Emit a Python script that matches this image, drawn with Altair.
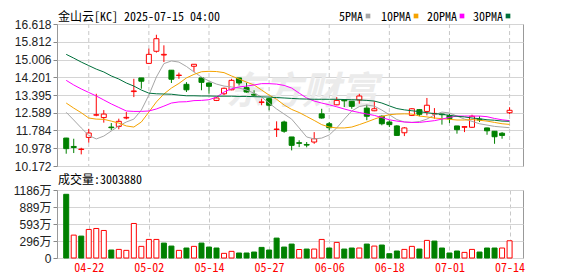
import altair as alt
import pandas as pd

# ---------------- data ----------------
dates = ["04-16","04-17","04-21","04-22","04-23","04-24","04-25","04-28","04-29","04-30",
         "05-01","05-02","05-05","05-06","05-07","05-08","05-09","05-12","05-13","05-14",
         "05-15","05-16","05-19","05-20","05-21","05-22","05-23","05-27","05-28","05-29",
         "05-30","06-02","06-03","06-04","06-05","06-06","06-09","06-10","06-11","06-12",
         "06-13","06-16","06-17","06-18","06-20","06-23","06-24","06-25","06-26","06-27",
         "06-30","07-01","07-02","07-03","07-07","07-08","07-09","07-10","07-11","07-14"]

open_ = [11.44,11.06,10.92,11.47,12.48,12.37,11.94,11.97,12.35,13.55,
         14.17,14.83,15.38,15.21,14.52,14.28,13.88,14.70,14.17,13.94,
         13.15,13.45,13.63,14.17,13.73,13.43,13.06,13.23,11.83,12.17,
         11.49,11.23,11.15,11.26,12.54,12.09,12.95,13.17,13.11,13.17,
         12.80,12.68,12.43,12.17,11.99,11.68,12.47,12.73,12.65,12.53,
         12.53,12.47,11.99,11.93,11.93,12.29,11.90,11.75,11.66,12.59]
high = [11.45,11.41,11.00,11.86,13.45,12.71,12.12,12.32,12.62,14.13,
        14.17,15.50,16.13,15.65,14.53,14.41,13.98,14.79,14.21,13.96,
        13.30,13.73,14.13,14.17,13.95,13.61,13.23,13.26,12.20,12.23,
        11.49,11.34,11.26,11.71,12.77,12.17,13.30,13.20,13.12,13.45,
        12.95,13.11,12.47,12.25,12.02,11.94,12.80,12.76,13.26,12.80,
        12.54,12.54,11.99,11.97,12.50,12.43,11.91,11.76,11.71,12.84]
low = [10.73,10.76,10.70,11.23,12.43,12.14,11.80,11.84,12.29,13.30,
       13.68,14.82,15.32,14.89,13.94,14.13,13.53,14.44,13.61,13.45,
       13.12,13.39,13.61,13.83,13.50,13.35,12.93,12.70,11.49,11.68,
       10.88,11.03,11.02,11.18,12.32,11.79,12.93,12.85,12.77,13.00,
       12.25,12.66,12.02,11.94,11.55,11.53,12.44,12.43,12.47,12.32,
       12.05,12.12,11.64,11.71,11.90,12.17,11.59,11.18,11.41,12.52]
close = [10.96,11.01,10.94,11.67,12.50,12.53,11.91,12.20,12.38,13.58,
         14.02,15.24,15.95,15.24,14.11,14.30,13.63,14.79,13.97,13.79,
         13.26,13.70,14.06,13.94,13.53,13.39,13.08,12.93,11.85,11.75,
         11.11,11.20,11.12,11.41,12.35,11.91,13.15,13.13,12.88,13.35,
         12.43,12.77,12.09,12.05,11.56,11.90,12.77,12.52,12.93,12.56,
         12.50,12.32,11.82,11.96,12.43,12.26,11.77,11.50,11.56,12.70]
# volume in 万 (10k shares)
volume_wan = [1111,399,382,498,515,480,139,150,133,602,
              203,324,324,260,208,133,174,203,260,191,
              174,81,116,87,87,104,185,139,347,191,
              243,148,156,156,324,174,272,156,174,174,
              243,208,226,75,122,150,203,156,307,295,
              174,87,122,98,150,104,174,174,174,300.388]

ma5 = [12.61,12.26,11.90,11.56,11.40,11.53,11.76,11.99,12.17,12.30,
       12.71,13.39,14.21,14.82,14.94,14.89,14.69,14.44,14.21,14.03,
       13.89,13.80,13.76,13.71,13.62,13.48,13.30,13.03,12.76,12.53,
       12.30,11.90,11.49,11.40,11.44,11.58,11.90,12.30,12.67,12.87,
       12.94,12.89,12.71,12.50,12.28,12.17,12.15,12.19,12.30,12.49,
       12.62,12.58,12.44,12.30,12.20,12.09,12.03,11.97,11.94,11.91]
ma10 = [13.03,12.80,12.59,12.35,12.30,12.29,12.21,12.12,11.99,11.94,
        12.17,12.62,13.08,13.44,13.71,13.92,14.17,14.33,14.45,14.47,
        14.46,14.41,14.26,14.12,13.98,13.85,13.62,13.39,13.20,12.94,
        12.74,12.60,12.42,12.24,12.05,11.94,11.90,11.90,11.94,12.05,
        12.17,12.30,12.42,12.50,12.53,12.54,12.53,12.44,12.40,12.35,
        12.32,12.29,12.26,12.26,12.28,12.25,12.21,12.15,12.09,12.06]
ma20 = [14.06,13.85,13.67,13.51,13.35,13.17,12.99,12.83,12.67,12.65,
        12.65,12.67,12.76,12.89,13.03,13.08,13.09,13.14,13.15,13.18,
        13.30,13.53,13.68,13.76,13.80,13.85,13.91,13.91,13.89,13.83,
        13.71,13.48,13.26,13.12,13.03,12.95,12.86,12.76,12.67,12.60,
        12.53,12.47,12.37,12.27,12.21,12.17,12.15,12.15,12.19,12.23,
        12.30,12.38,12.44,12.44,12.44,12.44,12.41,12.33,12.27,12.23]
ma30 = [15.24,15.07,14.89,14.73,14.57,14.44,14.26,14.12,13.94,13.80,
        13.62,13.48,13.45,13.44,13.43,13.39,13.36,13.36,13.35,13.35,
        13.34,13.34,13.34,13.33,13.33,13.32,13.31,13.30,13.28,13.26,
        13.24,13.22,13.21,13.20,13.20,13.20,13.20,13.19,13.18,13.17,
        13.15,13.12,13.03,12.90,12.78,12.72,12.68,12.64,12.59,12.55,
        12.52,12.47,12.43,12.40,12.35,12.32,12.27,12.25,12.21,12.20]

ma_names = ["5PMA", "10PMA", "20PMA", "30PMA"]
ma_colors = ["#a6a6a6", "#f5a300", "#ff00ff", "#00703c"]

price_ticks = [10.172, 10.978, 11.784, 12.589, 13.395, 14.201, 15.006, 15.812, 16.618]
vol_ticks = [0, 2965000, 5930000, 8895000, 11860000]
date_ticks = ["04-22", "05-02", "05-14", "05-27", "06-06", "06-18", "07-01", "07-14"]

title_text = "金山云[KC] 2025-07-15 04:00"
watermark = "东方财富"

RED = "#ff0000"
GREEN = "#008000"
MONO = "'Noto Sans Mono CJK SC', 'Noto Sans CJK SC', 'DejaVu Sans Mono', monospace"
SANS = "'Liberation Sans', 'Noto Sans CJK SC', sans-serif"

# ---------------- frames ----------------
n = len(dates)
prev_close = [open_[0]] + close[:-1]
df = pd.DataFrame({
    "i": list(range(n)), "date": dates,
    "open": open_, "high": high, "low": low, "close": close,
    "vol": [v * 10000 for v in volume_wan],
})
df["up"] = df["close"] >= df["open"]
df["vol_up"] = [c >= p for c, p in zip(close, prev_close)]

ma_long = pd.concat([
    pd.DataFrame({"i": list(range(n)), "ma": name, "value": vals})
    for name, vals in zip(ma_names, [ma5, ma10, ma20, ma30])
])

tick_idx = [dates.index(d) for d in date_ticks]
grid_df = pd.DataFrame({"i": tick_idx})
label_expr = "[" + ",".join(f"'{d}'" for d in dates) + "][datum.value]"

x_scale = alt.Scale(domain=[-0.56, 60.12], nice=False, zero=False)
W = 466

# ---------------- price panel ----------------
y_price_scale = alt.Scale(domain=[10.172, 16.618], nice=False, zero=False)
price_axis = alt.Axis(values=price_ticks, format=".3f", grid=True, gridColor="#d4d4d4",
                      tickSize=4, tickColor="#888888", labelPadding=2, domain=False,
                      title=None, minExtent=48, maxExtent=48, labelFont=SANS,
                      labelFontSize=12, labelColor="#222222", labelOverlap=False)

def XP():
    return alt.X("i:Q", scale=x_scale, axis=None)

def YP(field):
    return alt.Y(field, scale=y_price_scale, axis=price_axis)

base = alt.Chart(df)

vgrid = alt.Chart(grid_df).mark_rule(strokeDash=[4, 3], color="#c8c8c8", strokeWidth=1).encode(
    x=XP())

ygrid_holder = base.mark_rule(opacity=0).encode(x=XP(), y=YP("low:Q"))

wm = alt.Chart(pd.DataFrame({"t": [watermark]})).mark_text(
    fontSize=38, font="'Noto Sans CJK SC'", fontStyle="italic", fontWeight="bold",
    color="#ebebeb").encode(text="t:N", x=alt.value(245), y=alt.value(69))

wicks = base.mark_rule(strokeWidth=1).encode(
    x=XP(), y=YP("low:Q"), y2="high:Q",
    color=alt.condition("datum.up", alt.value(RED), alt.value(GREEN)),
)
bodies = base.mark_bar(size=5, strokeWidth=1).encode(
    x=XP(), y=YP("open:Q"), y2="close:Q",
    fill=alt.condition("datum.up", alt.value("#ffffff"), alt.value(GREEN)),
    stroke=alt.condition("datum.up", alt.value(RED), alt.value(GREEN)),
)
lines = alt.Chart(ma_long).mark_line(strokeWidth=1).encode(
    x=XP(), y=YP("value:Q"),
    color=alt.Color("ma:N", scale=alt.Scale(domain=ma_names, range=ma_colors), legend=None),
    detail="ma:N",
)

TOP_Y = -7
title_mark = alt.Chart(pd.DataFrame({"t": [title_text]})).mark_text(
    align="left", baseline="middle", font=MONO, fontSize=12, color="#000000"
).encode(text="t:N", x=alt.value(1), y=alt.value(TOP_Y))

leg_layers = []
leg_text_x = [282, 324, 370, 416]
leg_sq_x = [311, 359, 405, 451]
for name, col, tx, sx in zip(ma_names, ma_colors, leg_text_x, leg_sq_x):
    leg_layers.append(
        alt.Chart(pd.DataFrame({"t": [name]})).mark_text(
            align="left", baseline="middle", font=MONO, fontSize=12, color="#000000"
        ).encode(text="t:N", x=alt.value(tx), y=alt.value(TOP_Y))
    )
    leg_layers.append(
        alt.Chart(pd.DataFrame({"t": [name]})).mark_square(
            size=22, filled=True, color=col, opacity=1
        ).encode(x=alt.value(sx), y=alt.value(TOP_Y - 1))
    )

price = alt.layer(ygrid_holder, vgrid, wm, wicks, bodies, lines, title_mark,
                  *leg_layers).properties(width=W, height=142)

# ---------------- volume panel ----------------
vol_x = alt.X("i:Q", scale=x_scale,
              axis=alt.Axis(values=tick_idx, grid=True, gridDash=[4, 3], gridColor="#c8c8c8",
                            ticks=False, domain=False, title=None, labelExpr=label_expr,
                            labelColor=RED, labelFont=MONO, labelFontSize=12, labelPadding=4))
vol_y = alt.Y("vol:Q", scale=alt.Scale(domain=[0, 11860000], nice=False),
              axis=alt.Axis(values=vol_ticks, grid=True, gridColor="#d4d4d4",
                            labelExpr="datum.value == 0 ? '0' : floor(datum.value / 10000) + '万'",
                            tickSize=4, tickColor="#888888", labelPadding=2, domain=False,
                            title=None, minExtent=48, maxExtent=48, labelFont=SANS,
                            labelFontSize=12, labelColor="#222222", labelOverlap=False))

vol_bars = alt.Chart(df).mark_bar(size=5, strokeWidth=1).encode(
    x=vol_x, y=vol_y,
    fill=alt.condition("datum.vol_up", alt.value("#ffffff"), alt.value(GREEN)),
    stroke=alt.condition("datum.vol_up", alt.value(RED), alt.value(GREEN)),
)
vol_title = alt.Chart(pd.DataFrame({"t": [f"成交量:{int(round(volume_wan[-1] * 10000))}"]})).mark_text(
    align="left", baseline="middle", font=MONO, fontSize=12, color="#000000"
).encode(text="t:N", x=alt.value(1), y=alt.value(-10))

volume = alt.layer(vol_bars, vol_title).properties(width=W, height=68)

chart = alt.vconcat(price, volume, spacing=0).properties(
    padding={"left": 0, "top": 2, "right": 10, "bottom": 0}
).configure_view(stroke="#999999", strokeWidth=1).configure_axis(labelOverlap=False)

chart.save("out.html", embed_options={"renderer": "svg", "actions": False})
